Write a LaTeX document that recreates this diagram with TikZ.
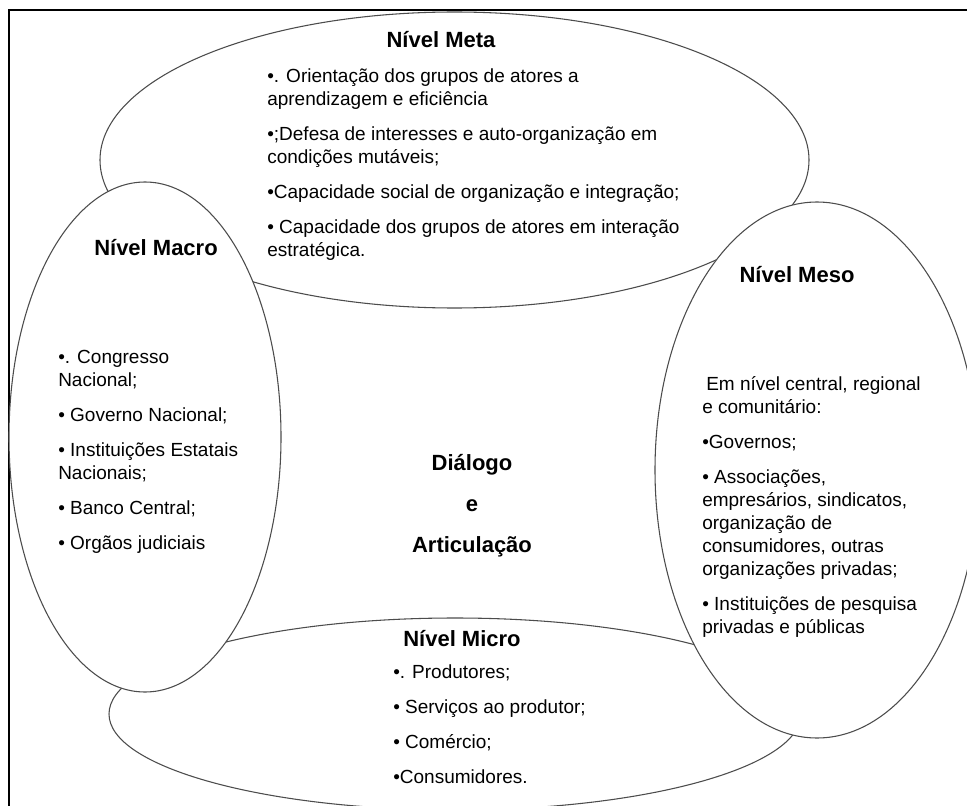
\documentclass[tikz,border=0pt]{standalone}
\usepackage{fontspec}
\setmainfont{Liberation Sans}
\usetikzlibrary{positioning}

\begin{document}
\begin{tikzpicture}[x=0.75pt,y=-0.75pt,
    level/.style={draw=black!70, line width=0.8pt, fill=white},
    heading/.style={font=\fontsize{16.5}{20}\selectfont\bfseries, inner sep=0pt},
    bodytext/.style={font=\fontsize{14.25}{17.25}\selectfont, align=left, anchor=north west, inner sep=0pt}]
    % page and frame
    \useasboundingbox (0,0) rectangle (967,806);
    \fill[white] (0,0) rectangle (967,806);
    \clip (0,0) rectangle (967,806);
    \draw[line width=1.6pt] (9,10) rectangle (990,830); % frame, right and bottom sides run off the page

    % the four levels, later ones lie over the earlier ones
    \draw[level] (454.5,160) ellipse [x radius=354.5, y radius=148]; % meta
    \draw[level] (455,714) ellipse [x radius=346, y radius=96]; % micro
    \draw[level] (145,437) ellipse [x radius=136, y radius=255]; % macro
    \draw[level] (817,470) ellipse [x radius=162, y radius=268]; % meso

    % headings
    \node[heading] (metatitle) at (441,40) {Nível Meta};
    \node[heading] (macrotitle) at (156,248) {Nível Macro};
    \node[heading] (mesotitle) at (797,275) {Nível Meso};
    \node[heading] (microtitle) at (462,639) {Nível Micro};

    % texts of the levels
    \node[bodytext] (metatext) at (267,68) {•. Orientação dos grupos de atores a\\
        aprendizagem e eficiência\\[9pt]
        •;Defesa de interesses e auto-organização em\\
        condições mutáveis;\\[9pt]
        •Capacidade social de organização e integração;\\[9pt]
        • Capacidade dos grupos de atores em interação\\
        estratégica.};
    \node[bodytext] (macrotext) at (58,350) {•. Congresso\\
        Nacional;\\[9pt]
        • Governo Nacional;\\[9pt]
        • Instituições Estatais\\
        Nacionais;\\[9pt]
        • Banco Central;\\[9pt]
        • Orgãos judiciais};
    \node[bodytext] (mesotext) at (702,376) {\hspace*{3pt}Em nível central, regional\\
        e comunitário:\\[9pt]
        •Governos;\\[9pt]
        • Associações,\\
        empresários, sindicatos,\\
        organização de\\
        consumidores, outras\\
        organizações privadas;\\[9pt]
        • Instituições de pesquisa\\
        privadas e públicas};
    \node[bodytext] (microtext) at (393,664) {•. Produtores;\\[9pt]
        • Serviços ao produtor;\\[9pt]
        • Comércio;\\[9pt]
        •Consumidores.};

    % centre
    \node[heading, align=center, font=\fontsize{16.5}{30.75}\selectfont\bfseries] (dialogo) at (472,506) {Diálogo\\e\\Articulação};
\end{tikzpicture}
\end{document}
